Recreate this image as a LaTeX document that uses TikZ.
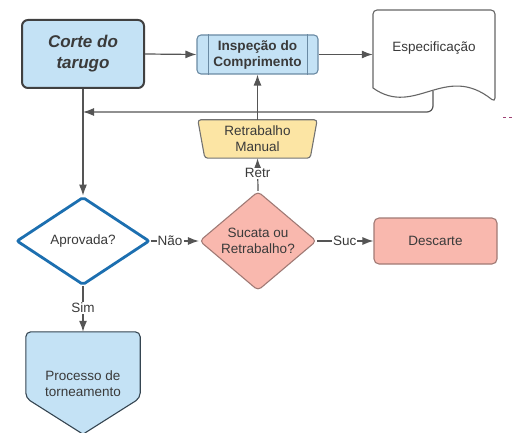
\documentclass[tikz,border=0pt]{standalone}
\usepackage{fontspec}
\setmainfont{Liberation Sans}
\usetikzlibrary{arrows.meta,shapes.geometric,calc}
\definecolor{txt}{HTML}{3A3A3A}
\definecolor{lblue}{HTML}{C4E2F5}
\definecolor{salmon}{HTML}{F9B8AE}
\definecolor{lyellow}{HTML}{FCE5A4}
\definecolor{conn}{HTML}{555555}
\definecolor{dblue}{HTML}{1C6FB0}
\definecolor{redbd}{HTML}{A07A75}
\definecolor{bluebd}{HTML}{6A8AA3}
\tikzset{
  base/.style={text=txt, font=\fontsize{13.5}{16}\selectfont, align=center, inner sep=0pt},
  arr/.style={draw=conn, line width=1.2pt, -{Latex[length=11pt,width=8pt]}},
  lbl/.style={base, fill=white, inner sep=1pt},
}
\begin{document}
\begin{tikzpicture}[x=1pt,y=-1pt]
\useasboundingbox (0,0) rectangle (517,433);
\clip (0,0) rectangle (517,433);

% Corte do tarugo
\node[base, draw=black!75, line width=2pt, fill=lblue, rounded corners=6pt,
      minimum width=122pt, minimum height=68pt,
      font=\fontsize{17}{21}\selectfont\bfseries\itshape] (corte) at (83,54) {Corte do\\tarugo};

% Inspecao do Comprimento
\node[base, draw=bluebd, line width=1.1pt, fill=lblue, rounded corners=4pt,
      minimum width=121pt, minimum height=39pt,
      font=\fontsize{13.6}{16}\selectfont\bfseries] (insp) at (257.5,54.5) {Inspeção do\\Comprimento};
\draw[bluebd, line width=1.1pt] ($(insp.north west)+(12,0)$) -- ($(insp.south west)+(12,0)$);
\draw[bluebd, line width=1.1pt] ($(insp.north east)+(-11,0)$) -- ($(insp.south east)+(-11,0)$);

% Especificacao (document)
\draw[draw=black!60, line width=1.1pt, fill=white, rounded corners=4pt]
  (373,88) -- (373,10) -- (495,10) -- (495,102) [sharp corners]
  .. controls (445,62) and (415,118) .. (373,88) -- cycle;
\node[base, minimum width=122pt, minimum height=76pt] (spec) at (434,48) {Especificação};
\coordinate (specb) at (433,91);
\coordinate (ret) at (83,112);

% Retrabalho Manual (manual operation)
\node[base, minimum width=119pt, minimum height=38pt] (retrab) at (257.5,139) {};
\draw[draw=black!55, line width=1.1pt, fill=lyellow, rounded corners=3pt]
  (retrab.north west) -- (retrab.north east) -- ($(retrab.south east)+(-7,0)$)
  -- ($(retrab.south west)+(7,0)$) -- cycle;
\node[base] (retrabtxt) at (retrab.center) {Retrabalho\\Manual};

% Aprovada?
\node[base, diamond, draw=dblue, line width=2.8pt, fill=white, rounded corners=2pt,
      minimum width=133pt, minimum height=88pt] (aprov) at (83,241) {Aprovada?};

% Sucata ou Retrabalho?
\node[base, diamond, draw=redbd, line width=1.1pt, fill=salmon, rounded corners=4pt,
      minimum width=117pt, minimum height=87pt] (suc) at (258,241) {Sucata ou\\Retrabalho?};

% Descarte
\node[base, draw=redbd, line width=1.1pt, fill=salmon, rounded corners=5pt,
      minimum width=123pt, minimum height=46pt] (desc) at (435.5,241) {Descarte};

% Processo de torneamento (off-page connector)
\node[base, minimum width=114pt, minimum height=102pt] (proc) at (83,383) {};
\draw[draw=black!50!bluebd, line width=1.1pt, fill=lblue, rounded corners=5pt]
  (proc.south) -- ($(proc.west)+(0,15)$) -- (proc.north west) -- (proc.north east)
  -- ($(proc.east)+(0,15)$) [sharp corners] -- (proc.south) -- cycle;
\node[base] (proctxt) at (83,384) {Processo de\\torneamento};

% Connectors
\draw[arr] (corte.east) -- (insp.west);
\draw[arr] (insp.east) -- (insp.east -| spec.west);
\draw[arr, rounded corners=6pt] (specb) |- (ret);
\draw[arr] (corte.south) -- (aprov.north);
\draw[arr] (retrab.north) -- (insp.south);
\draw[arr] (suc.north) -- node[lbl, pos=0.54] {Retr} (retrab.south);
\draw[arr] (aprov.east) -- node[lbl, pos=0.4] {Não} (suc.west);
\draw[arr] (suc.east) -- node[lbl, pos=0.49] {Suc} (desc.west);
\draw[arr] (aprov.south) -- node[lbl, pos=0.47] {Sim} (proc.north);

% small stray mark
\draw[magenta!60!black, line width=0.8pt, dash pattern=on 3pt off 3pt] (503,117) -- (514,117);
\end{tikzpicture}
\end{document}
